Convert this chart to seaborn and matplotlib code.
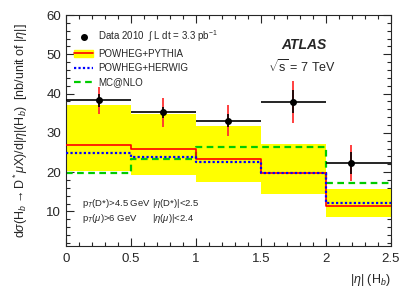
import numpy as np
import pandas as pd
import matplotlib
matplotlib.use("Agg")
import matplotlib.pyplot as plt
import seaborn as sns
from matplotlib.patches import Patch
from matplotlib.lines import Line2D

# bins in |eta|
edges = [0, 0.5, 1.0, 1.5, 2.0, 2.5]

# predictions (nb / unit |eta|)
pythia = [26.9, 26.0, 23.4, 19.7, 11.5]
pythia_lo = [20.3, 19.4, 17.4, 14.5, 8.5]
pythia_hi = [37.1, 34.9, 31.8, 27.1, 15.8]
herwig = [25.0, 23.9, 22.5, 19.9, 12.2]
mcatnlo = [19.9, 23.3, 26.5, 26.3, 17.2]

# data
data_x = [0.25, 0.75, 1.25, 1.75, 2.19]
data_y = [38.3, 35.2, 33.1, 37.9, 22.4]
stat_err = [1.7, 1.5, 1.7, 2.9, 2.8]
tot_err = [3.5, 3.7, 3.9, 5.3, 4.6]

sns.set_style("ticks")
plt.rcParams['font.family'] = ['Liberation Sans', 'DejaVu Sans']
plt.rcParams['mathtext.fontset'] = 'custom'
plt.rcParams['mathtext.rm'] = 'Liberation Sans'
plt.rcParams['mathtext.it'] = 'Liberation Sans:italic'
plt.rcParams['mathtext.bf'] = 'Liberation Sans:bold'

fig = plt.figure(figsize=(4.11, 2.95), dpi=100)
ax = fig.add_axes([0.1606, 0.166, 0.7907, 0.783])

def stepvals(v):
    return list(v) + [v[-1]]

ax.fill_between(edges, stepvals(pythia_lo), stepvals(pythia_hi), step='post',
                color='#ffff00', linewidth=0, zorder=1)

steps = pd.DataFrame({
    'x': edges * 3,
    'y': stepvals(pythia) + stepvals(herwig) + stepvals(mcatnlo),
    'model': ['POWHEG+PYTHIA'] * 6 + ['POWHEG+HERWIG'] * 6 + ['MC@NLO'] * 6,
})
sns.lineplot(data=steps[steps.model == 'POWHEG+PYTHIA'], x='x', y='y', ax=ax,
             drawstyle='steps-post', color='#ff0000', lw=1.2, zorder=3, sort=False)
sns.lineplot(data=steps[steps.model == 'POWHEG+HERWIG'], x='x', y='y', ax=ax,
             drawstyle='steps-post', color='#0000ff', lw=1.6, ls=(0, (1, 1)), zorder=4, sort=False)
sns.lineplot(data=steps[steps.model == 'MC@NLO'], x='x', y='y', ax=ax,
             drawstyle='steps-post', color='#00cc00', lw=1.6, ls=(0, (3, 2)), zorder=2, sort=False)

# data points: horizontal bars span the bin
dx = np.array(data_x)
xerr = [dx - np.array(edges[:-1]), np.array(edges[1:]) - dx]
ax.errorbar(data_x, data_y, yerr=tot_err, fmt='none', ecolor='#ff3030', elinewidth=1.3, zorder=5)
ax.errorbar(data_x, data_y, xerr=xerr, yerr=stat_err, fmt='o', color='black',
            ms=4, elinewidth=1.2, capsize=0, zorder=6)

ax.set_xlim(0, 2.5)
ax.set_ylim(1.2, 60)
ax.set_xticks([0, 0.5, 1, 1.5, 2, 2.5])
ax.set_xticklabels(['0', '0.5', '1', '1.5', '2', '2.5'])
ax.set_yticks([10, 20, 30, 40, 50, 60])
ax.xaxis.set_minor_locator(matplotlib.ticker.MultipleLocator(0.1))
ax.yaxis.set_minor_locator(matplotlib.ticker.MultipleLocator(2))
ax.tick_params(which='both', direction='in', top=True, right=True, labelsize=9.5, width=0.8)
ax.tick_params(which='major', length=6)
ax.tick_params(which='minor', length=3)
ax.tick_params(axis='x', pad=5)
for s in ax.spines.values():
    s.set_linewidth(0.8)

ax.set_xlabel(r'|$\eta$| (H$_b$)', fontsize=9, loc='right', labelpad=5)
ax.set_ylabel(r'd$\sigma$(H$_b$$\rightarrow$D$^*\mu$X)/d|$\eta$|(H$_b$)  [nb/unit of |$\eta$|]',
              fontsize=9)
ax.yaxis.set_label_coords(-0.11, 0.5)

handles = [
    Line2D([], [], marker='o', color='black', ls='none', ms=4),
    (Patch(color='#ffff00'), Line2D([], [], color='#ff0000', lw=1.2)),
    Line2D([], [], color='#0000ff', lw=1.6, ls=(0, (1, 1))),
    Line2D([], [], color='#00cc00', lw=1.6, ls=(0, (3, 2))),
]
labels = [r'Data 2010  $\int$ L dt = 3.3 pb$^{-1}$', 'POWHEG+PYTHIA', 'POWHEG+HERWIG', 'MC@NLO']
ax.legend(handles, labels, loc='upper left', bbox_to_anchor=(0.0, 0.975), frameon=False,
          fontsize=7, handlelength=2.0, handletextpad=0.5, labelspacing=0.45, borderaxespad=0.4)

ax.text(0.732, 0.87, 'ATLAS', transform=ax.transAxes, fontsize=10, weight='bold',
        style='italic', ha='center', va='center')
ax.text(0.727, 0.775, r'$\sqrt{\rm s}$ = 7 TeV', transform=ax.transAxes, fontsize=9,
        ha='center', va='center')

ax.text(0.05, 0.185, r'p$_T$(D*)>4.5 GeV', transform=ax.transAxes, fontsize=6.8, va='center')
ax.text(0.265, 0.185, r'|$\eta$(D*)|<2.5', transform=ax.transAxes, fontsize=6.8, va='center')
ax.text(0.05, 0.12, r'p$_T$($\mu$)>6 GeV', transform=ax.transAxes, fontsize=6.8, va='center')
ax.text(0.265, 0.12, r'|$\eta$($\mu$)|<2.4', transform=ax.transAxes, fontsize=6.8, va='center')

fig.savefig('out.png', dpi=100)
